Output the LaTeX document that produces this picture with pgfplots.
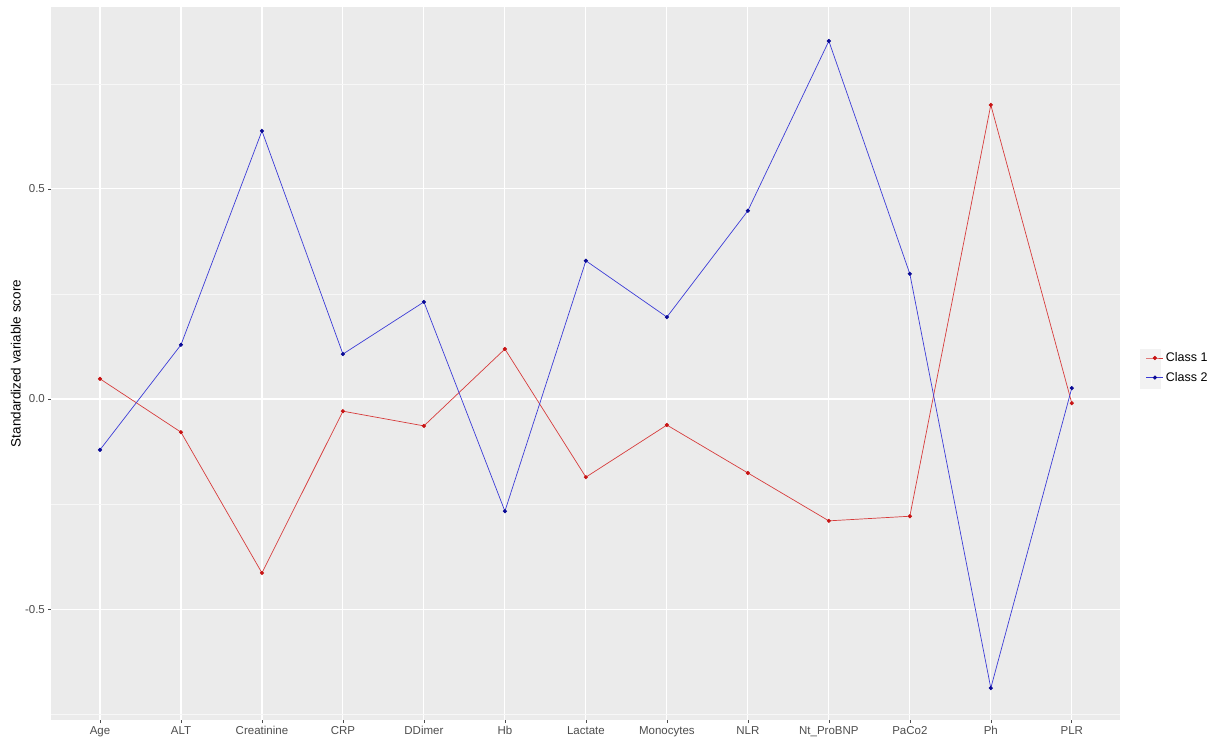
\documentclass[border=0pt]{standalone}
\usepackage{pgfplots}
\pgfplotsset{compat=1.18}
\usepackage{fontspec}
\setmainfont{Liberation Sans}
\definecolor{panel}{RGB}{235,235,235}
\definecolor{keybg}{RGB}{242,242,242}
\definecolor{ticktext}{RGB}{77,77,77}
\definecolor{redline}{RGB}{215,60,60}
\definecolor{redmark}{RGB}{200,20,20}
\definecolor{blueline}{RGB}{60,60,215}
\definecolor{bluemark}{RGB}{10,10,150}
\begin{document}
\begin{tikzpicture}[x=1pt,y=1pt]
\useasboundingbox (0,0) rectangle (1215,742);
\fill[keybg] (1140,353) rectangle (1161,393);
\begin{axis}[
  at={(51.4pt,22pt)}, anchor=south west,
  scale only axis, width=1069pt, height=713pt,
  xmin=0.4, xmax=13.6, ymin=-0.764, ymax=0.933,
  axis background/.style={fill=panel},
  axis line style={draw=none},
  xtick={1,...,13},
  xticklabels={Age,ALT,Creatinine,CRP,DDimer,Hb,Lactate,Monocytes,NLR,Nt\_ProBNP,PaCo2,Ph,PLR},
  ytick={-0.5,0,0.5},
  yticklabels={-0.5,0.0,0.5},
  minor ytick={-0.75,-0.25,0.25,0.75},
  xtick pos=bottom, ytick pos=left,
  grid=both,
  major grid style={white, line width=1.1pt},
  minor grid style={white!60!panel, line width=0.6pt},
  tick style={ticktext, line width=0.6pt},
  tick align=outside, major tick length=3pt,
  minor tick length=0pt,
  ticklabel style={font=\fontsize{11.5}{13}\selectfont, text=ticktext},
  /pgf/number format/assume math mode=true,
  ylabel={Standardized variable score},
  ylabel style={font=\fontsize{13.5}{15}\selectfont, at={(-27pt,0.5)}, anchor=south},
  clip=false,
  legend style={at={(1.021,0.494)}, anchor=west, draw=none, fill=none,
     font=\fontsize{12.5}{14}\selectfont, row sep=5pt},
  legend cell align=left,
  legend image post style={line width=0.7pt},
]
\addplot[redline, line width=0.7pt, mark=*, mark size=1.7pt, mark options={redmark, fill=redmark}] coordinates {
(1,0.048) (2,-0.079) (3,-0.414) (4,-0.029) (5,-0.064) (6,0.119) (7,-0.186) (8,-0.062) (9,-0.176) (10,-0.290) (11,-0.279) (12,0.700) (13,-0.010)};
\addlegendentry{Class 1}
\addplot[blueline, line width=0.7pt, mark=*, mark size=1.7pt, mark options={bluemark, fill=bluemark}] coordinates {
(1,-0.121) (2,0.129) (3,0.638) (4,0.107) (5,0.231) (6,-0.267) (7,0.329) (8,0.195) (9,0.448) (10,0.852) (11,0.298) (12,-0.688) (13,0.026)};
\addlegendentry{Class 2}
\end{axis}
\end{tikzpicture}
\end{document}
